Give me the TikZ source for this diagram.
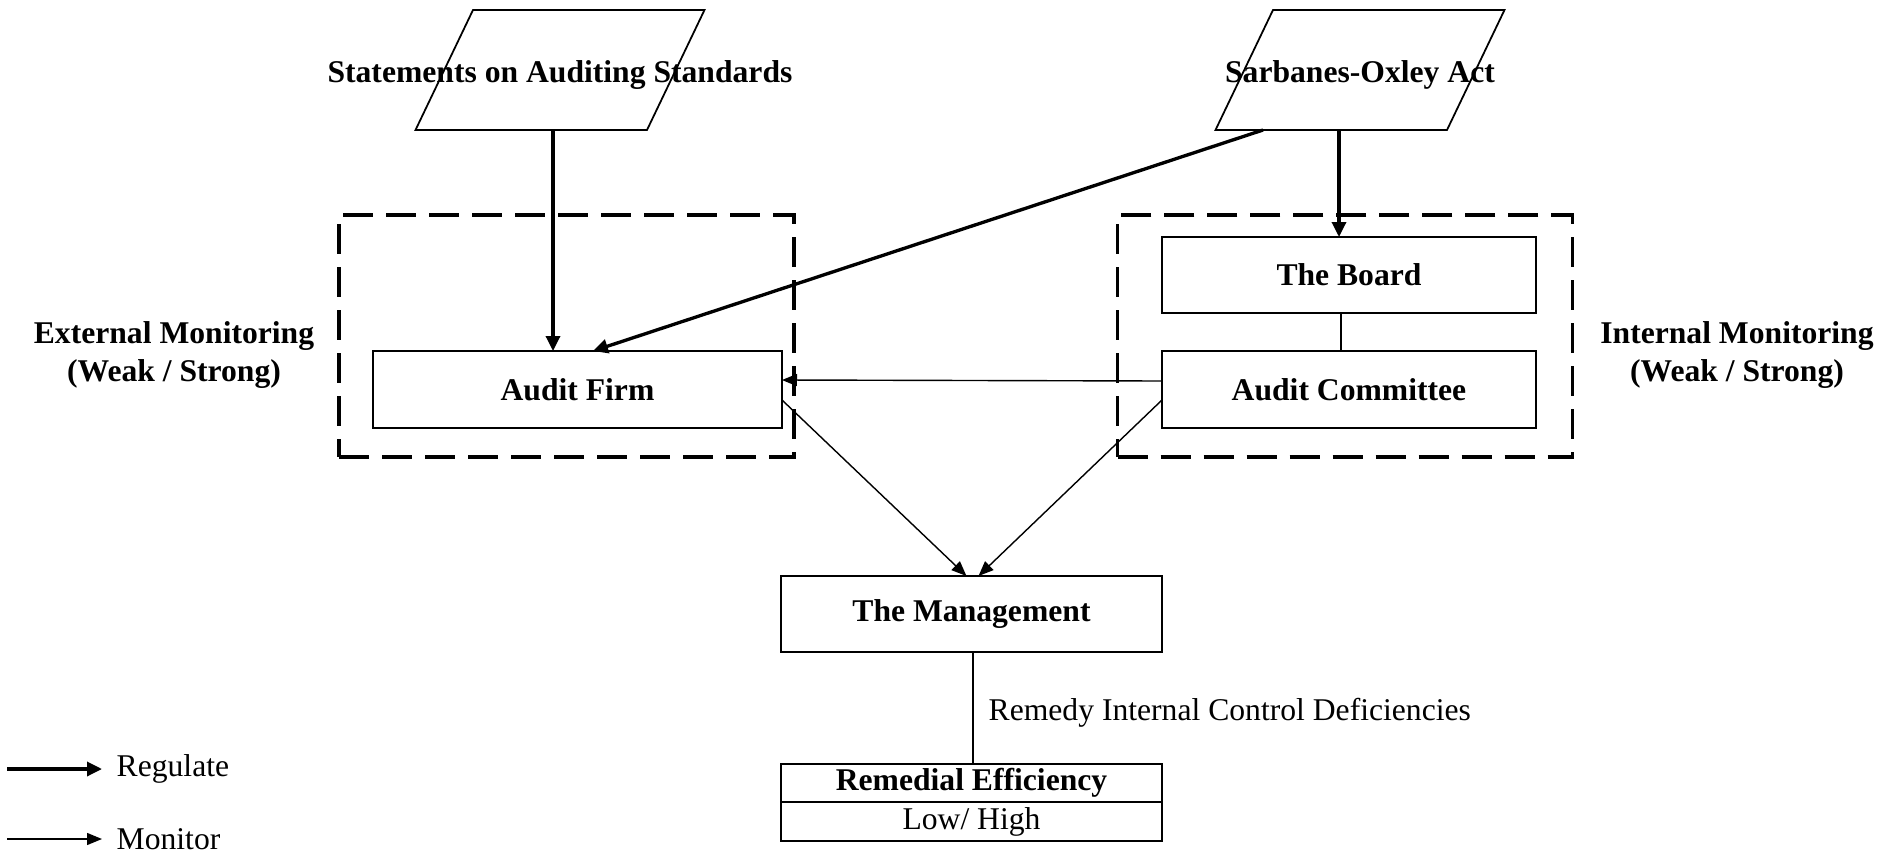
\documentclass[tikz,border=0pt]{standalone}
\usepackage{fontspec}
\setmainfont{Liberation Serif}
\usetikzlibrary{arrows.meta,positioning,shapes.geometric}

\begin{document}
\begin{tikzpicture}[font=\fontsize{9}{11}\selectfont,
	box/.style={rectangle,draw,line width=0.5pt,outer sep=0pt,minimum width=3.81cm,minimum height=0.77cm,font=\fontsize{9}{11}\selectfont\bfseries},
	act/.style={trapezium,trapezium left angle=64.4,trapezium right angle=115.6,draw,line width=0.5pt,outer sep=0pt,inner xsep=0.87cm,inner ysep=0.475cm,text height=2.5mm,text depth=0mm,font=\fontsize{9}{11}\selectfont\bfseries},
	group/.style={rectangle,draw,dash pattern=on 0.3cm off 0.13cm,line width=1.1pt,minimum width=4.55cm,minimum height=2.42cm},
	side/.style={align=center,font=\fontsize{9}{11}\selectfont\bfseries},
	regulate/.style={-{Triangle[length=1.5mm,width=1.4mm]},line width=0.95pt},
	monitor/.style={-{Triangle[length=1.5mm,width=1.2mm]},line width=0.4pt}]
	\useasboundingbox (0,0) rectangle (18.98,-8.57);
	% standards and law
	\node[act] (sas) at (5.60,-0.70) {\makebox[0pt]{Statements on Auditing Standards}};
	\node[act] (sox) at (13.60,-0.70) {\makebox[0pt]{Sarbanes-Oxley Act}};
	% monitoring groups
	\node[group] (extbox) at (5.665,-3.36) {};
	\node[group] (intbox) at (13.45,-3.36) {};
	\node[box,minimum width=4.09cm] (af) at (5.775,-3.895) {Audit Firm};
	\node[box,minimum width=3.74cm,minimum height=0.76cm] (board) at (13.49,-2.75) {The Board};
	\node[box,minimum width=3.74cm] (ac) [below=0.38cm of board] {Audit Committee};
	\node[side] (ext) at (1.74,-3.55) {External Monitoring\\(Weak / Strong)};
	\node[side] (int) at (17.37,-3.55) {Internal Monitoring\\(Weak / Strong)};
	% management
	\node[box,minimum height=0.76cm] (mgmt) at (9.715,-6.14) {The Management};
	\node[box,minimum height=0.38cm,inner ysep=0pt] (rem) at (9.715,-7.83) {Remedial Efficiency};
	\node[box,minimum height=0.39cm,inner ysep=0pt,font=\fontsize{9}{11}\selectfont] (level) [below=0cm of rem] {Low/ High};
	% legend
	\coordinate (regstart) at (0.07,-7.69);
	\coordinate (regend) at (1.02,-7.69);
	\node[right=0.14cm of regend,inner sep=0pt] (regtxt) {Regulate};
	\coordinate (monstart) at (0.07,-8.39);
	\coordinate (monend) at (1.02,-8.39);
	\node[right=0.14cm of monend,inner sep=0pt] (montxt) {Monitor};

	\path[regulate]
	([xshift=-0.07cm]sas.south) edge ([xshift=-0.07cm]sas.south |- af.north)
	([xshift=-0.97cm]sox.south) edge ([xshift=0.155cm]af.north)
	([xshift=-0.21cm]sox.south) edge ([xshift=-0.21cm]sox.south |- board.north)
	(regstart) edge (regend);
	\path[monitor]
	([yshift=0.085cm]ac.west) edge ([yshift=0.095cm]af.east)
	([yshift=-0.105cm]af.east) edge ([xshift=-0.05cm]mgmt.north)
	([yshift=-0.105cm]ac.west) edge ([xshift=0.07cm]mgmt.north)
	(monstart) edge (monend);
	\draw[line width=0.5pt] ([xshift=-0.08cm]board.south) -- ([xshift=-0.08cm]ac.north);
	\draw[line width=0.55pt] ([xshift=0.015cm]mgmt.south) -- node[right,pos=0.54,xshift=0.03cm] {Remedy Internal Control Deficiencies} ([xshift=0.015cm]rem.north);
\end{tikzpicture}
\end{document}
